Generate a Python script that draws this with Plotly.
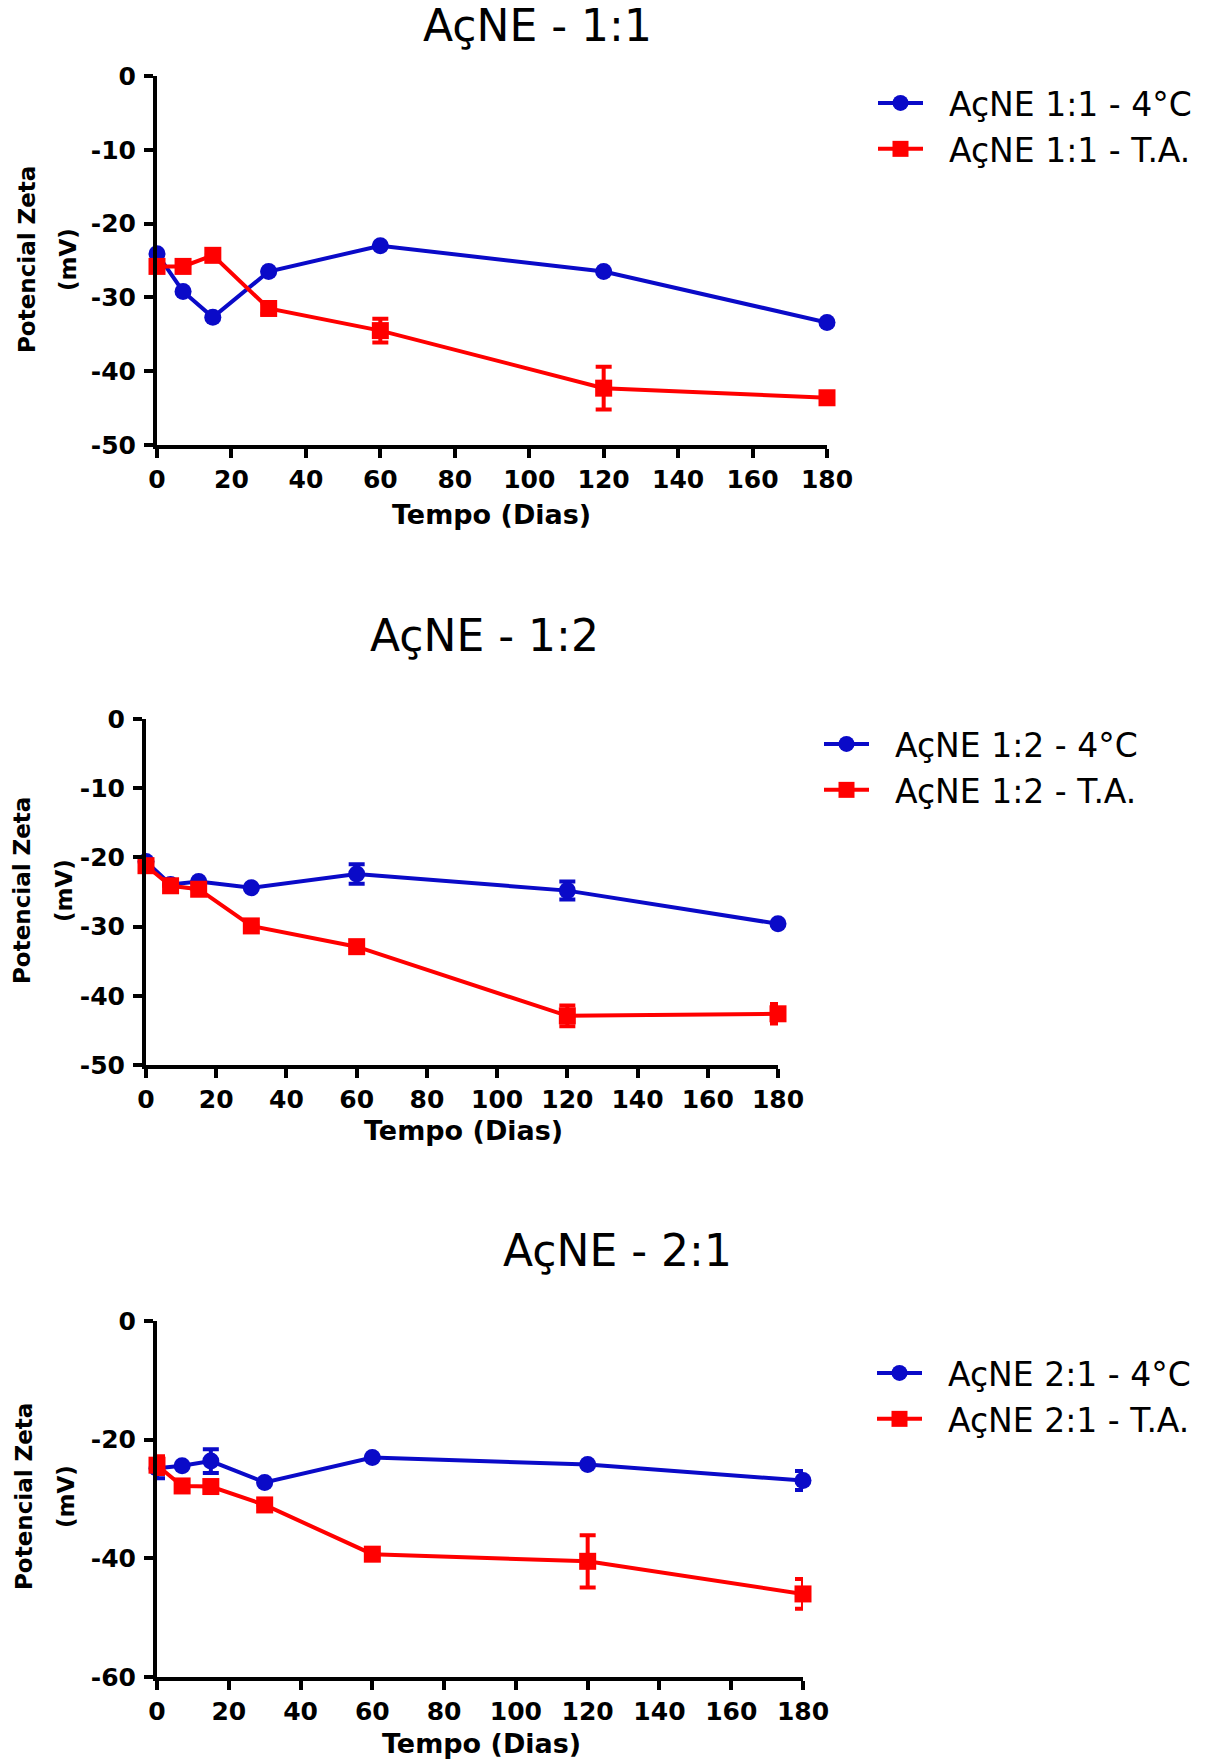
import plotly.graph_objects as go

# Sampling days
dias = [0, 7, 15, 30, 60, 120, 180]

# AçNE 1:1 zeta potential (mV): mean and error
ac11_4c = [-24.1, -29.2, -32.7, -26.5, -23.0, -26.5, -33.4]
ac11_4c_err = [0, 0, 0, 0, 0, 0, 0]
ac11_ta = [-25.8, -25.8, -24.3, -31.5, -34.5, -42.3, -43.6]
ac11_ta_err = [0, 0, 0, 0.7, 1.6, 2.9, 0]

# AçNE 1:2
ac12_4c = [-20.6, -23.9, -23.5, -24.4, -22.4, -24.8, -29.6]
ac12_4c_err = [0, 0, 0, 0, 1.4, 1.3, 0]
ac12_ta = [-21.2, -24.1, -24.6, -29.9, -32.9, -42.9, -42.6]
ac12_ta_err = [0, 0, 0, 0, 0, 1.5, 1.4]

# AçNE 2:1
ac21_4c = [-24.8, -24.4, -23.6, -27.2, -23.0, -24.2, -26.9]
ac21_4c_err = [1.7, 0, 2.0, 0, 0, 0, 1.6]
ac21_ta = [-24.3, -27.8, -27.9, -31.0, -39.3, -40.5, -46.0]
ac21_ta_err = [1.5, 0, 0, 0, 0, 4.4, 2.5]

panel_titles = ["AçNE - 1:1", "AçNE - 1:2", "AçNE - 2:1"]
legend_names = [
    ("AçNE 1:1 - 4°C", "AçNE 1:1 - T.A."),
    ("AçNE 1:2 - 4°C", "AçNE 1:2 - T.A."),
    ("AçNE 2:1 - 4°C", "AçNE 2:1 - T.A."),
]
x_ticks = [0, 20, 40, 60, 80, 100, 120, 140, 160, 180]
y_ticks_50 = [0, -10, -20, -30, -40, -50]
y_ticks_60 = [0, -20, -40, -60]
y_ticklabels_50 = ["0", "-10", "-20", "-30", "-40", "-50"]
y_ticklabels_60 = ["0", "-20", "-40", "-60"]

series = [
    (ac11_4c, ac11_4c_err, ac11_ta, ac11_ta_err),
    (ac12_4c, ac12_4c_err, ac12_ta, ac12_ta_err),
    (ac21_4c, ac21_4c_err, ac21_ta, ac21_ta_err),
]
y_axes = [
    ((-50, 0), y_ticks_50, y_ticklabels_50),
    ((-50, 0), y_ticks_50, y_ticklabels_50),
    ((-60, 0), y_ticks_60, y_ticklabels_60),
]

W, H = 1220, 1762
BLUE = "#0a0ac8"
RED = "#ff0000"
PAD = "\u00a0\u00a0"  # gap between legend symbol and its label

# Pixel layout of each panel: plot box left/right/top/bottom, title centre,
# y-title line centres, x-title centre, legend top-left
layout_px = [
    dict(l=157, r=827, t=76, b=445, title=(537, 25), yt=(27, 68, 260), xt=(491, 514), leg=(873, 75)),
    dict(l=146, r=778, t=719, b=1065, title=(484, 636), yt=(22, 64, 891), xt=(463, 1130), leg=(819, 716)),
    dict(l=157, r=803, t=1321, b=1677, title=(617, 1250), yt=(24, 66, 1497), xt=(481, 1743), leg=(872, 1345)),
]


def px_x(x):
    return x / W


def px_y(y):
    return 1 - y / H


fig = go.Figure()
annotations = []
tick_font = dict(family="DejaVu Sans", size=25, color="black", weight="bold")
axis_style = dict(
    showline=True, linewidth=4, linecolor="black",
    ticks="outside", ticklen=9, tickwidth=4, tickcolor="black",
    tickfont=tick_font, showgrid=False, zeroline=False, automargin=False,
)

for i, (b4, b4e, ta, tae) in enumerate(series):
    n = "" if i == 0 else str(i + 1)
    xa, ya = "x" + n, "y" + n
    leg = "legend" + n
    p = layout_px[i]
    yrange, yvals, ytext = y_axes[i]

    fig.add_trace(go.Scatter(
        x=dias, y=b4, xaxis=xa, yaxis=ya, legend=leg,
        name=PAD + legend_names[i][0], mode="lines+markers",
        line=dict(color=BLUE, width=4),
        marker=dict(symbol="circle", size=17, color=BLUE),
        error_y=dict(type="data", array=b4e, color=BLUE, thickness=4, width=8),
        cliponaxis=False,
    ))
    fig.add_trace(go.Scatter(
        x=dias, y=ta, xaxis=xa, yaxis=ya, legend=leg,
        name=PAD + legend_names[i][1], mode="lines+markers",
        line=dict(color=RED, width=4),
        marker=dict(symbol="square", size=17, color=RED),
        error_y=dict(type="data", array=tae, color=RED, thickness=4, width=8),
        cliponaxis=False,
    ))

    fig.update_layout({
        "xaxis" + n: dict(
            domain=[px_x(p["l"]), px_x(p["r"])], anchor=ya,
            range=[0, 180], tickvals=x_ticks, ticklabelstandoff=0, **axis_style,
        ),
        "yaxis" + n: dict(
            domain=[px_y(p["b"]), px_y(p["t"])], anchor=xa,
            range=list(yrange), tickvals=yvals, ticktext=ytext,
            ticklabelstandoff=3, **axis_style,
        ),
        leg: dict(
            x=px_x(p["leg"][0]), y=px_y(p["leg"][1]), xanchor="left", yanchor="top",
            font=dict(family="DejaVu Sans", size=33, color="black"),
            bgcolor="rgba(0,0,0,0)", itemwidth=45, tracegroupgap=0,
        ),
    })

    annotations.append(dict(
        text=panel_titles[i], x=px_x(p["title"][0]), y=px_y(p["title"][1]),
        xref="paper", yref="paper", showarrow=False, xanchor="center", yanchor="middle",
        font=dict(family="DejaVu Sans", size=44, color="black"),
    ))
    ytx1, ytx2, yty = p["yt"]
    for txt, xx in (("Potencial Zeta", ytx1), ("(mV)", ytx2)):
        annotations.append(dict(
            text=txt, x=px_x(xx), y=px_y(yty), xref="paper", yref="paper",
            showarrow=False, textangle=-90, xanchor="center", yanchor="middle",
            font=dict(family="DejaVu Sans", size=23, color="black", weight="bold"),
        ))
    annotations.append(dict(
        text="Tempo (Dias)", x=px_x(p["xt"][0]), y=px_y(p["xt"][1]),
        xref="paper", yref="paper", showarrow=False, xanchor="center", yanchor="middle",
        font=dict(family="DejaVu Sans", size=27, color="black", weight="bold"),
    ))

fig.update_layout(
    width=W, height=H,
    margin=dict(l=0, r=0, t=0, b=0, pad=0, autoexpand=False),
    paper_bgcolor="white", plot_bgcolor="white",
    annotations=annotations, showlegend=True,
)

fig.write_html("out.html")
